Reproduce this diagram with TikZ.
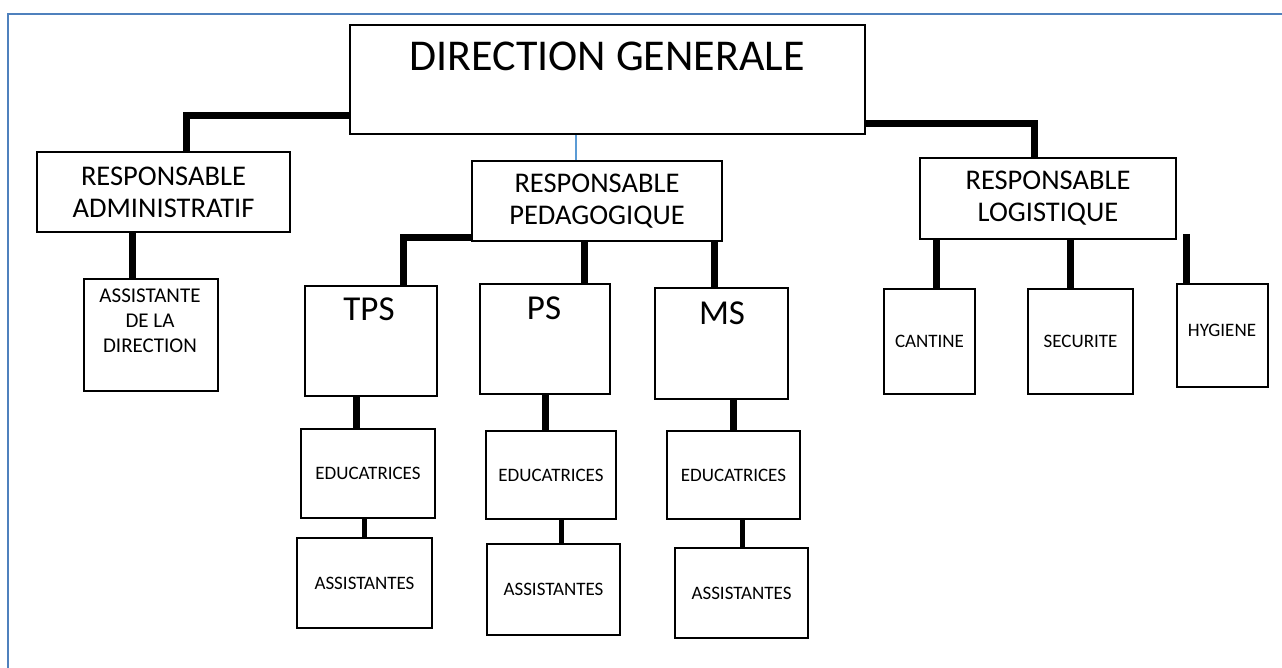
\documentclass[tikz,border=0pt]{standalone}
\usepackage{fontspec}
\setmainfont{Carlito}
\definecolor{frameblue}{HTML}{4F81BD}
\definecolor{linkblue}{HTML}{5B9BD5}
\tikzset{
  box/.style={draw, line width=1.6pt, inner sep=0pt, align=center},
  link/.style={line width=7pt},
  thin link/.style={line width=5pt},
  blue link/.style={line width=1.2pt, draw=linkblue},
  big/.style={font=\fontsize{44}{50}\selectfont},
  class/.style={font=\fontsize{35}{40}\selectfont},
  resp/.style={font=\fontsize{28.5}{32}\selectfont},
  small/.style={font=\fontsize{19}{25}\selectfont},
}
\begin{document}
\begin{tikzpicture}[x=1pt, y=-1pt]
\useasboundingbox (0,0) rectangle (1282,668);
\draw[frameblue, line width=2.5pt] (8,668) -- (8,14) -- (1282,14);

% boxes
\node[box, minimum width=515, minimum height=109] (dg) at (607.5,79.5) {};
\node[big] (dg-t) at (607,56) {DIRECTION GENERALE};

\node[box, resp, minimum width=253, minimum height=80] (admin) at (163.5,192) {RESPONSABLE\\ADMINISTRATIF};
\node[box, resp, minimum width=250, minimum height=80] (peda) at (597,201) {RESPONSABLE\\PEDAGOGIQUE};
\node[box, resp, minimum width=256, minimum height=81] (logis) at (1048,198.5) {RESPONSABLE\\LOGISTIQUE};

\node[box, minimum width=134, minimum height=112] (asdir) at (151,335) {};
\node[align=center, font=\fontsize{21}{25}\selectfont] (asdir-t) at (150,321) {ASSISTANTE\\DE LA\\DIRECTION};

\node[box, minimum width=132, minimum height=110] (tps) at (371,341) {};
\node[class] (tps-t) at (369,309) {TPS};
\node[box, minimum width=130, minimum height=110] (ps) at (545,339) {};
\node[class] (ps-t) at (544,308) {PS};
\node[box, minimum width=133, minimum height=111] (ms) at (721.5,343.5) {};
\node[class] (ms-t) at (722,313) {MS};

\node[box, small, minimum width=134, minimum height=89] (edtps) at (368,473.5) {EDUCATRICES};
\node[box, small, minimum width=130, minimum height=88] (edps) at (551,475) {EDUCATRICES};
\node[box, small, minimum width=133, minimum height=88] (edms) at (733.5,475) {EDUCATRICES};

\node[box, small, minimum width=135, minimum height=90] (astps) at (364.5,583) {ASSISTANTES};
\node[box, small, minimum width=133, minimum height=91] (asps) at (553.5,589.5) {ASSISTANTES};
\node[box, small, minimum width=133, minimum height=90] (asms) at (741.5,593) {ASSISTANTES};

\node[box, small, minimum width=91, minimum height=105] (cant) at (929.5,341.5) {CANTINE};
\node[box, small, minimum width=105, minimum height=105] (secu) at (1080.5,341.5) {SECURITE};
\node[box, minimum width=91, minimum height=103] (hyg) at (1222.5,335.5) {};
\node[small] (hyg-t) at (1222,330) {HYGIENE};

% connectors
\coordinate (j1) at (186,116);
\coordinate (j2) at (1034,124);
\coordinate (j3) at (403,238);
\coordinate (h0) at (1186,234);
\draw[link] (dg.west |- j1) -| (admin.north -| j1);
\draw[link] (dg.east |- j2) -| (logis.north -| j2);
\draw[blue link] (dg.south -| 576,0) -- (peda.north -| 576,0);
\draw[link] (admin.south -| 132,0) -- (asdir.north -| 132,0);
\draw[link] (peda.west |- j3) -| (tps.north -| j3);
\foreach \a/\b/\x in {peda/ps/584, peda/ms/714, tps/edtps/356, ps/edps/545, ms/edms/733, logis/cant/936, logis/secu/1070}
  \draw[link] (\a.south -| \x,0) -- (\b.north -| \x,0);
\foreach \a/\b/\x in {edtps/astps/364, edps/asps/561, edms/asms/742}
  \draw[thin link] (\a.south -| \x,0) -- (\b.north -| \x,0);
\draw[link] (h0) -- (hyg.north -| h0);
\end{tikzpicture}
\end{document}
